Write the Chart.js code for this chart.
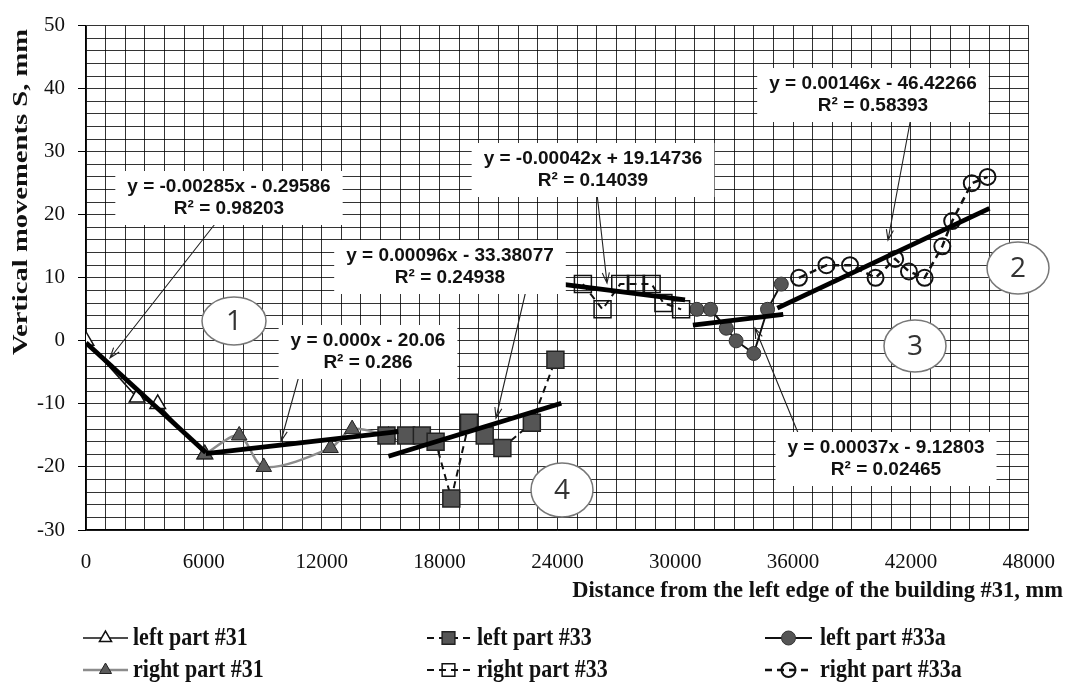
<!DOCTYPE html>
<html lang="en">
<head>
<meta charset="UTF-8" />
<title>Vertical movements</title>
<script src="https://cdn.jsdelivr.net/npm/chart.js"></script>
<style>
  html, body { margin: 0; padding: 0; background: #fff; }
  #wrap { width: 1067px; height: 683px; position: relative; }
</style>
</head>
<body>
<div id="wrap"><canvas id="movementChart"></canvas></div>
<script>
const leftPart31X = [0, 2600, 3650, 6050];
const leftPart31Y = [0, -9, -10, -18];
const rightPart31X = [6050, 7800, 9050, 12450, 13550, 15400];
const rightPart31Y = [-18, -15, -20, -17, -14, -15];
const leftPart33X = [15300, 16300, 17100, 17800, 18600, 19500, 20300, 21200, 22700, 23900];
const leftPart33Y = [-15, -15, -15, -16, -25, -13, -15, -17, -13, -3];
const rightPart33X = [25300, 26300, 27200, 28000, 28800, 29400, 30300];
const rightPart33Y = [9, 5, 9, 9, 9, 6, 5];
const leftPart33aX = [31100, 31800, 32600, 33100, 34000, 34700, 35400];
const leftPart33aY = [5, 5, 2, 0, -2, 5, 9];
const rightPart33aX = [36300, 37700, 38900, 40200, 41200, 41900, 42700, 43600, 44100, 45100, 45900];
const rightPart33aY = [10, 12, 12, 10, 13, 11, 10, 15, 19, 25, 26];

// trend line end points
const trend1X = [0, 6100],      trend1Y = [-0.3, -17.7];
const trend2X = [6100, 15900],  trend2Y = [-17.9, -14.4];
const trend3X = [15400, 24200], trend3Y = [-18.3, -9.9];
const trend4X = [24200, 30500], trend4Y = [9.0, 6.5];
const trend5X = [30900, 35500], trend5Y = [2.5, 4.2];
const trend6X = [35200, 46000], trend6Y = [5.2, 21.0];

const xLabelTicks = [0, 6000, 12000, 18000, 24000, 30000, 36000, 42000, 48000];
const yLabelTicks = [-30, -20, -10, 0, 10, 20, 30, 40, 50];

const legendNames = ['left part #31', 'right part #31', 'left part #33', 'right part #33', 'left part #33a', 'right part #33a'];
const equations = [
  ['y = -0.00285x - 0.29586', 'R² = 0.98203'],
  ['y = 0.000x - 20.06', 'R² = 0.286'],
  ['y = 0.00096x - 33.38077', 'R² = 0.24938'],
  ['y = -0.00042x + 19.14736', 'R² = 0.14039'],
  ['y = 0.00146x - 46.42266', 'R² = 0.58393'],
  ['y = 0.00037x - 9.12803', 'R² = 0.02465']
];
const zoneNumbers = ['1', '2', '3', '4'];
const xTitle = 'Distance from the left edge of the building #31, mm';
const yTitle = 'Vertical movements S, mm';

// where the labels sit on the page
const eqPlace = [
  { cx: 229, cy: 198, from: [222, 215], to: [110, 358] },
  { cx: 368, cy: 352, from: [302, 365], to: [281, 441] },
  { cx: 450, cy: 267, from: [528, 282], to: [496, 418] },
  { cx: 593, cy: 170, from: [596, 185], to: [607, 283] },
  { cx: 873, cy: 95,  from: [912, 112], to: [888, 240] },
  { cx: 886, cy: 459, from: [810, 462], to: [755, 328] }
];
const zonePlace = [
  { cx: 234, cy: 321, rx: 32, ry: 24 },
  { cx: 1018, cy: 268, rx: 31, ry: 26 },
  { cx: 915, cy: 346, rx: 31, ry: 26 },
  { cx: 562, cy: 490, rx: 31, ry: 27 }
];
const legendCols = [{ sx: 83, ex: 128, tx: 133 }, { sx: 427, ex: 470, tx: 477 }, { sx: 765, ex: 812, tx: 820 }];
const legendRows = [638, 670];

function pts(xs, ys) {
  return xs.map((x, i) => ({ x: x, y: ys[i] }));
}

function trend(xs, ys) {
  return { data: pts(xs, ys), showLine: true, borderColor: '#000', borderWidth: 4.8, pointRadius: 0, order: 0 };
}

const series = [
  { label: legendNames[0], data: pts(leftPart31X, leftPart31Y), showLine: true, borderColor: '#111', borderWidth: 1.5,
    pointStyle: 'triangle', pointRadius: 9, pointBackgroundColor: '#fff', pointBorderColor: '#111', pointBorderWidth: 1.5, order: 3 },
  { label: legendNames[1], data: pts(rightPart31X, rightPart31Y), showLine: true, borderColor: '#8c8c8c', borderWidth: 2.5, tension: 0.3,
    pointStyle: 'triangle', pointRadius: 9, pointBackgroundColor: '#5a5a5a', pointBorderColor: '#222', pointBorderWidth: 1, order: 2 },
  { label: legendNames[2], data: pts(leftPart33X, leftPart33Y), showLine: true, borderColor: '#111', borderWidth: 2, borderDash: [7, 5],
    pointStyle: 'rect', pointRadius: 12, pointBackgroundColor: '#555', pointBorderColor: '#222', pointBorderWidth: 1.5, order: 1 },
  { label: legendNames[3], data: pts(rightPart33X, rightPart33Y), showLine: true, borderColor: '#111', borderWidth: 2, borderDash: [7, 5],
    pointStyle: 'rect', pointRadius: 12, pointBackgroundColor: 'rgba(255,255,255,0)', pointBorderColor: '#111', pointBorderWidth: 1.5, order: 1 },
  { label: legendNames[4], data: pts(leftPart33aX, leftPart33aY), showLine: true, borderColor: '#111', borderWidth: 2,
    pointStyle: 'circle', pointRadius: 7, pointBackgroundColor: '#555', pointBorderColor: '#333', pointBorderWidth: 1, order: 1 },
  { label: legendNames[5], data: pts(rightPart33aX, rightPart33aY), showLine: true, borderColor: '#111', borderWidth: 2.5, borderDash: [7, 5],
    pointStyle: 'circle', pointRadius: 8, pointBackgroundColor: 'rgba(255,255,255,0)', pointBorderColor: '#111', pointBorderWidth: 2, order: 1 }
];

const trends = [
  trend(trend1X, trend1Y), trend(trend2X, trend2Y), trend(trend3X, trend3Y),
  trend(trend4X, trend4Y), trend(trend5X, trend5Y), trend(trend6X, trend6Y)
];

function marker(ctx, style, x, y, r) {
  ctx.beginPath();
  if (style === 'triangle') {
    for (let k = 0; k < 3; k++) {
      const a = k * 2 * Math.PI / 3;
      const px = x + Math.sin(a) * r, py = y - Math.cos(a) * r;
      if (k === 0) ctx.moveTo(px, py); else ctx.lineTo(px, py);
    }
    ctx.closePath();
  } else if (style === 'rect') {
    const s = r * Math.SQRT1_2;
    ctx.rect(x - s, y - s, 2 * s, 2 * s);
  } else {
    ctx.arc(x, y, r, 0, Math.PI * 2);
  }
  ctx.fill();
  ctx.stroke();
}

function arrow(ctx, x1, y1, x2, y2) {
  const a = Math.atan2(y2 - y1, x2 - x1), L = 11, s = 0.33;
  ctx.beginPath();
  ctx.moveTo(x1, y1);
  ctx.lineTo(x2, y2);
  ctx.moveTo(x2 - L * Math.cos(a - s), y2 - L * Math.sin(a - s));
  ctx.lineTo(x2, y2);
  ctx.lineTo(x2 - L * Math.cos(a + s), y2 - L * Math.sin(a + s));
  ctx.stroke();
}

const annotations = {
  id: 'annotations',
  afterDatasetsDraw(chart) {
    const ctx = chart.ctx;
    ctx.save();
    ctx.strokeStyle = '#222';
    ctx.lineWidth = 1.1;
    eqPlace.forEach(p => arrow(ctx, p.from[0], p.from[1], p.to[0], p.to[1]));

    ctx.font = 'bold 19px "Liberation Sans"';
    ctx.textAlign = 'center';
    ctx.textBaseline = 'middle';
    equations.forEach((lines, i) => {
      const p = eqPlace[i];
      const w = Math.max(...lines.map(t => ctx.measureText(t).width)) + 24;
      const h = 54;
      ctx.fillStyle = '#fff';
      ctx.fillRect(p.cx - w / 2, p.cy - h / 2, w, h);
      ctx.fillStyle = '#111';
      ctx.fillText(lines[0], p.cx, p.cy - 11);
      ctx.fillText(lines[1], p.cx, p.cy + 11);
    });

    ctx.font = '28px "Open Sans"';
    zoneNumbers.forEach((t, i) => {
      const z = zonePlace[i];
      ctx.beginPath();
      ctx.ellipse(z.cx, z.cy, z.rx, z.ry, 0, 0, Math.PI * 2);
      ctx.fillStyle = '#fff';
      ctx.fill();
      ctx.strokeStyle = '#777';
      ctx.lineWidth = 1.5;
      ctx.stroke();
      ctx.fillStyle = '#333';
      ctx.fillText(t, z.cx, z.cy + 1);
    });
    ctx.restore();
  },
  afterDraw(chart) {
    const ctx = chart.ctx;
    ctx.save();
    ctx.fillStyle = '#111';
    ctx.font = 'bold 22.5px "Liberation Serif"';
    ctx.textBaseline = 'middle';
    ctx.textAlign = 'right';
    ctx.fillText(xTitle, 1063, 591);
    // the printed y title is drawn stretched along its length
    ctx.translate(21, 192);
    ctx.rotate(-Math.PI / 2);
    ctx.scale(1.3, 1);
    ctx.textAlign = 'center';
    ctx.font = 'bold 22px "Liberation Serif"';
    ctx.fillText(yTitle, 0, 0);
    ctx.restore();

    // legend: three columns, two rows
    ctx.save();
    ctx.font = 'bold 22px "Liberation Serif"';
    ctx.textBaseline = 'middle';
    ctx.textAlign = 'left';
    series.forEach((ds, i) => {
      const col = legendCols[Math.floor(i / 2)];
      const y = legendRows[i % 2];
      ctx.strokeStyle = ds.borderColor;
      ctx.lineWidth = ds.borderWidth;
      ctx.setLineDash(ds.borderDash || []);
      ctx.beginPath();
      ctx.moveTo(col.sx, y);
      ctx.lineTo(col.ex, y);
      ctx.stroke();
      ctx.setLineDash([]);
      ctx.fillStyle = ds.pointBackgroundColor;
      ctx.strokeStyle = ds.pointBorderColor;
      ctx.lineWidth = ds.pointBorderWidth;
      marker(ctx, ds.pointStyle, (col.sx + col.ex) / 2, y, ds.pointStyle === 'rect' ? 9 : 7);
      ctx.save();
      ctx.translate(col.tx, y + 1);
      ctx.scale(1, 1.12);
      ctx.fillStyle = '#111';
      ctx.fillText(ds.label, 0, 0);
      ctx.restore();
    });
    ctx.restore();
  }
};

Chart.defaults.font.family = '"Liberation Serif"';

new Chart(document.getElementById('movementChart'), {
  type: 'scatter',
  data: { datasets: trends.concat(series) },
  options: {
    responsive: true,
    maintainAspectRatio: false,
    animation: false,
    layout: { padding: { left: 0, top: 22, right: 35, bottom: 103 } },
    plugins: { legend: { display: false }, tooltip: { enabled: false } },
    scales: {
      x: {
        type: 'linear', min: 0, max: 48000,
        afterFit: s => { s.height = 50; },
        grid: { color: 'rgba(0,0,0,0.8)', lineWidth: 1, tickLength: 8, tickColor: 'rgba(0,0,0,0)' },
        border: { color: '#000', width: 1.5 },
        ticks: {
          stepSize: 1000, autoSkip: false, maxRotation: 0, maxTicksLimit: 100, padding: 12,
          color: '#111', font: { size: 21 },
          callback: v => xLabelTicks.includes(v) ? String(v) : ''
        }
      },
      y: {
        type: 'linear', min: -30, max: 50,
        afterFit: s => { s.width = 86; },
        grid: {
          color: 'rgba(0,0,0,0.8)', lineWidth: 1, tickLength: 8,
          tickColor: c => (c.tick && yLabelTicks.includes(c.tick.value)) ? '#000' : 'rgba(0,0,0,0)'
        },
        border: { color: '#000', width: 1.5 },
        ticks: {
          stepSize: 2, autoSkip: false, maxTicksLimit: 100, padding: 13,
          color: '#111', font: { size: 21 },
          callback: v => yLabelTicks.includes(v) ? String(v) : ''
        }
      }
    }
  },
  plugins: [annotations]
});
</script>
</body>
</html>
